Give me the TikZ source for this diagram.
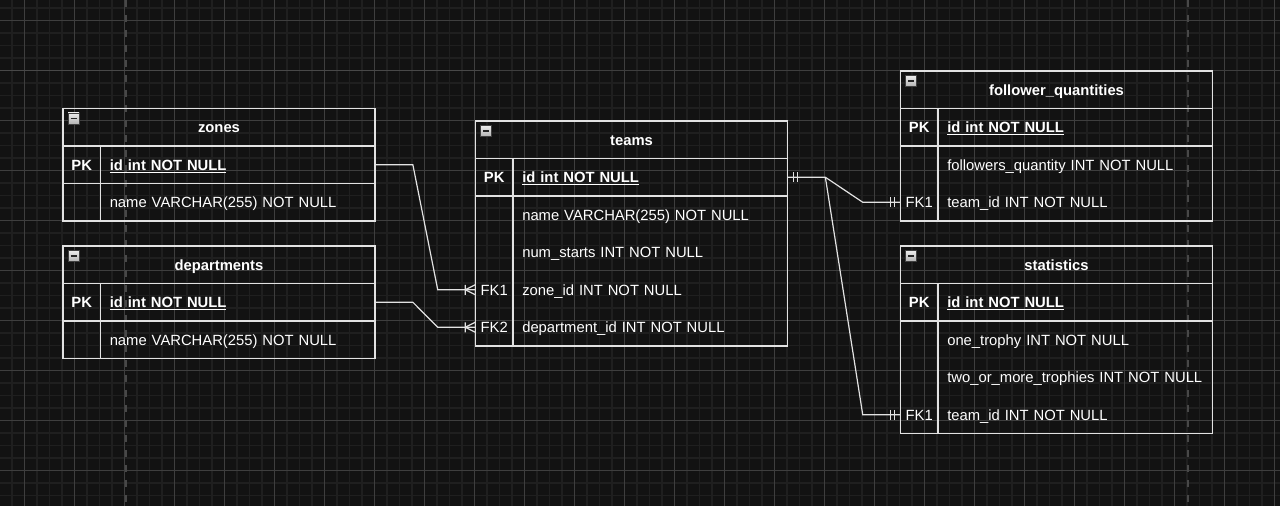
\documentclass[tikz,border=0pt]{standalone}
\usepackage{fontspec}
\setmainfont{Liberation Sans}
\usetikzlibrary{calc}
\definecolor{erbg}{RGB}{18,18,18}
\definecolor{ergridminor}{RGB}{31,31,31}
\definecolor{ergridmajor}{RGB}{62,62,62}
\definecolor{erbreak}{RGB}{72,72,72}
\definecolor{erline}{RGB}{226,226,226}

% frame of one table: left, top, number of plain rows
\newcommand{\erframe}[3]{%
  \draw[tblline] (#1,#2) rectangle ++(312,75+37.5*#3);
  \draw[tblline] (#1,#2+37.5) -- ++(312,0) (#1,#2+75) -- ++(312,0);
  \draw[tblline] (#1+37.5,#2+37.5) -- ++(0,37.5+37.5*#3);
  \shade[top color=gray!15,bottom color=gray!60,draw=gray!50!black] (#1+5,#2+4.5) rectangle ++(11,11);
  \draw[black!85,line width=1.3pt] (#1+7.5,#2+10) -- ++(6,0);
}

\begin{document}
\begin{tikzpicture}[x=0.75pt,y=-0.75pt,
    font=\fontsize{11.1pt}{13.5pt}\selectfont,
    every node/.style={text=white,text height=8pt,text depth=0pt},
    gridminor/.style={ergridminor,line width=1pt},
    gridmajor/.style={ergridmajor,line width=0.75pt},
    pagebreak/.style={erbreak,line width=1.5pt,dash pattern=on 5pt off 6.25pt},
    tblline/.style={draw=erline,line width=0.9pt},
    rel/.style={draw=erline,line width=0.9pt},
    hdr/.style={font=\fontsize{11.1pt}{13.5pt}\selectfont\bfseries},
    keylbl/.style={minimum width=28.125pt,inner sep=0pt},
    fieldlbl/.style={anchor=west,text width=199pt,inner sep=0pt,align=left},
    pkfield/.style={fieldlbl,font=\fontsize{11.1pt}{13.5pt}\selectfont\bfseries},
    crowmany/.pic={\draw[rel] (-10,0) -- (0,-5) (-10,0) -- (0,5) (-10,-5) -- (-10,5);},
    mandone/.pic={\draw[rel] (-6,-5) -- (-6,5) (-10,-5) -- (-10,5);}]

  % canvas and grid
  \useasboundingbox (0,0) rectangle (1280,506);
  \clip (0,0) rectangle (1280,506);
  \fill[erbg] (0,0) rectangle (1280,506);
  \foreach \i in {0,...,103} \draw[gridminor] (\i*12.5-0.5,0) -- ++(0,506);
  \foreach \i in {0,...,41} \draw[gridminor] (0,\i*12.5-4.5) -- ++(1280,0);
  \foreach \i in {0,...,25} \draw[gridmajor] (\i*50+24.5,0) -- ++(0,506);
  \foreach \i in {0,...,9} \draw[gridmajor] (0,\i*50+20.5) -- ++(1280,0);
  \draw[pagebreak] (125.5,0) -- ++(0,506);
  \draw[pagebreak] (1187.5,0) -- ++(0,506);
  \draw[erbreak,line width=1.2pt] (0,70.5) -- (480,70.5);
  \draw[pagebreak,line width=1.2pt] (1212,170.5) -- (1280,170.5);

  % zones
  \erframe{63}{108.5}{1}
  \node[hdr] (zones) at (219,127.25) {zones};
  \node[keylbl] (zones-pk) at (81.75,164.75) {\textbf{PK}};
  \node[pkfield] (zones-id) at (109.5,164.75) {\underline{id int NOT NULL}};
  \node[fieldlbl] (zones-name) at (109.5,202.25) {name VARCHAR(255) NOT NULL};

  % departments
  \erframe{63}{246}{1}
  \node[hdr] (departments) at (219,264.75) {departments};
  \node[keylbl] (dep-pk) at (81.75,302.25) {\textbf{PK}};
  \node[pkfield] (dep-id) at (109.5,302.25) {\underline{id int NOT NULL}};
  \node[fieldlbl] (dep-name) at (109.5,339.75) {name VARCHAR(255) NOT NULL};

  % teams
  \erframe{475.5}{121}{4}
  \node[hdr] (teams) at (631.5,139.75) {teams};
  \node[keylbl] (teams-pk) at (494.25,177.25) {\textbf{PK}};
  \node[pkfield] (teams-id) at (522,177.25) {\underline{id int NOT NULL}};
  \node[fieldlbl] (teams-name) at (522,214.75) {name VARCHAR(255) NOT NULL};
  \node[fieldlbl] (teams-starts) at (522,252.25) {num\_starts INT NOT NULL};
  \node[keylbl] (teams-fk1) at (494.25,289.75) {FK1};
  \node[fieldlbl] (teams-zone) at (522,289.75) {zone\_id INT NOT NULL};
  \node[keylbl] (teams-fk2) at (494.25,327.25) {FK2};
  \node[fieldlbl] (teams-dep) at (522,327.25) {department\_id INT NOT NULL};

  % follower_quantities
  \erframe{900.5}{71}{2}
  \node[hdr] (followers) at (1056.5,89.75) {follower\_quantities};
  \node[keylbl] (fol-pk) at (919.25,127.25) {\textbf{PK}};
  \node[pkfield] (fol-id) at (947,127.25) {\underline{id int NOT NULL}};
  \node[fieldlbl] (fol-qty) at (947,164.75) {followers\_quantity INT NOT NULL};
  \node[keylbl] (fol-fk1) at (919.25,202.25) {FK1};
  \node[fieldlbl] (fol-team) at (947,202.25) {team\_id INT NOT NULL};

  % statistics
  \erframe{900.5}{246}{3}
  \node[hdr] (statistics) at (1056.5,264.75) {statistics};
  \node[keylbl] (stat-pk) at (919.25,302.25) {\textbf{PK}};
  \node[pkfield] (stat-id) at (947,302.25) {\underline{id int NOT NULL}};
  \node[fieldlbl] (stat-one) at (947,339.75) {one\_trophy INT NOT NULL};
  \node[fieldlbl] (stat-two) at (947,377.25) {two\_or\_more\_trophies INT NOT NULL};
  \node[keylbl] (stat-fk1) at (919.25,414.75) {FK1};
  \node[fieldlbl] (stat-team) at (947,414.75) {team\_id INT NOT NULL};

  % relations
  \draw[rel] (zones-id.east) -- ++(37.5,0) -- ($(teams-fk1.west)+(-37.5,0)$) -- (teams-fk1.west);
  \draw[rel] (dep-id.east) -- ++(37.5,0) -- ($(teams-fk2.west)+(-37.5,0)$) -- (teams-fk2.west);
  \pic at (teams-fk1.west) {crowmany};
  \pic at (teams-fk2.west) {crowmany};
  \draw[rel] (teams-id.east) -- ++(37.5,0) coordinate (split)
    -- ($(fol-fk1.west)+(-37.5,0)$) -- (fol-fk1.west);
  \draw[rel] (split) -- ($(stat-fk1.west)+(-37.5,0)$) -- (stat-fk1.west);
  \pic[xscale=-1] at (teams-id.east) {mandone};
  \pic at (fol-fk1.west) {mandone};
  \pic at (stat-fk1.west) {mandone};
\end{tikzpicture}
\end{document}
